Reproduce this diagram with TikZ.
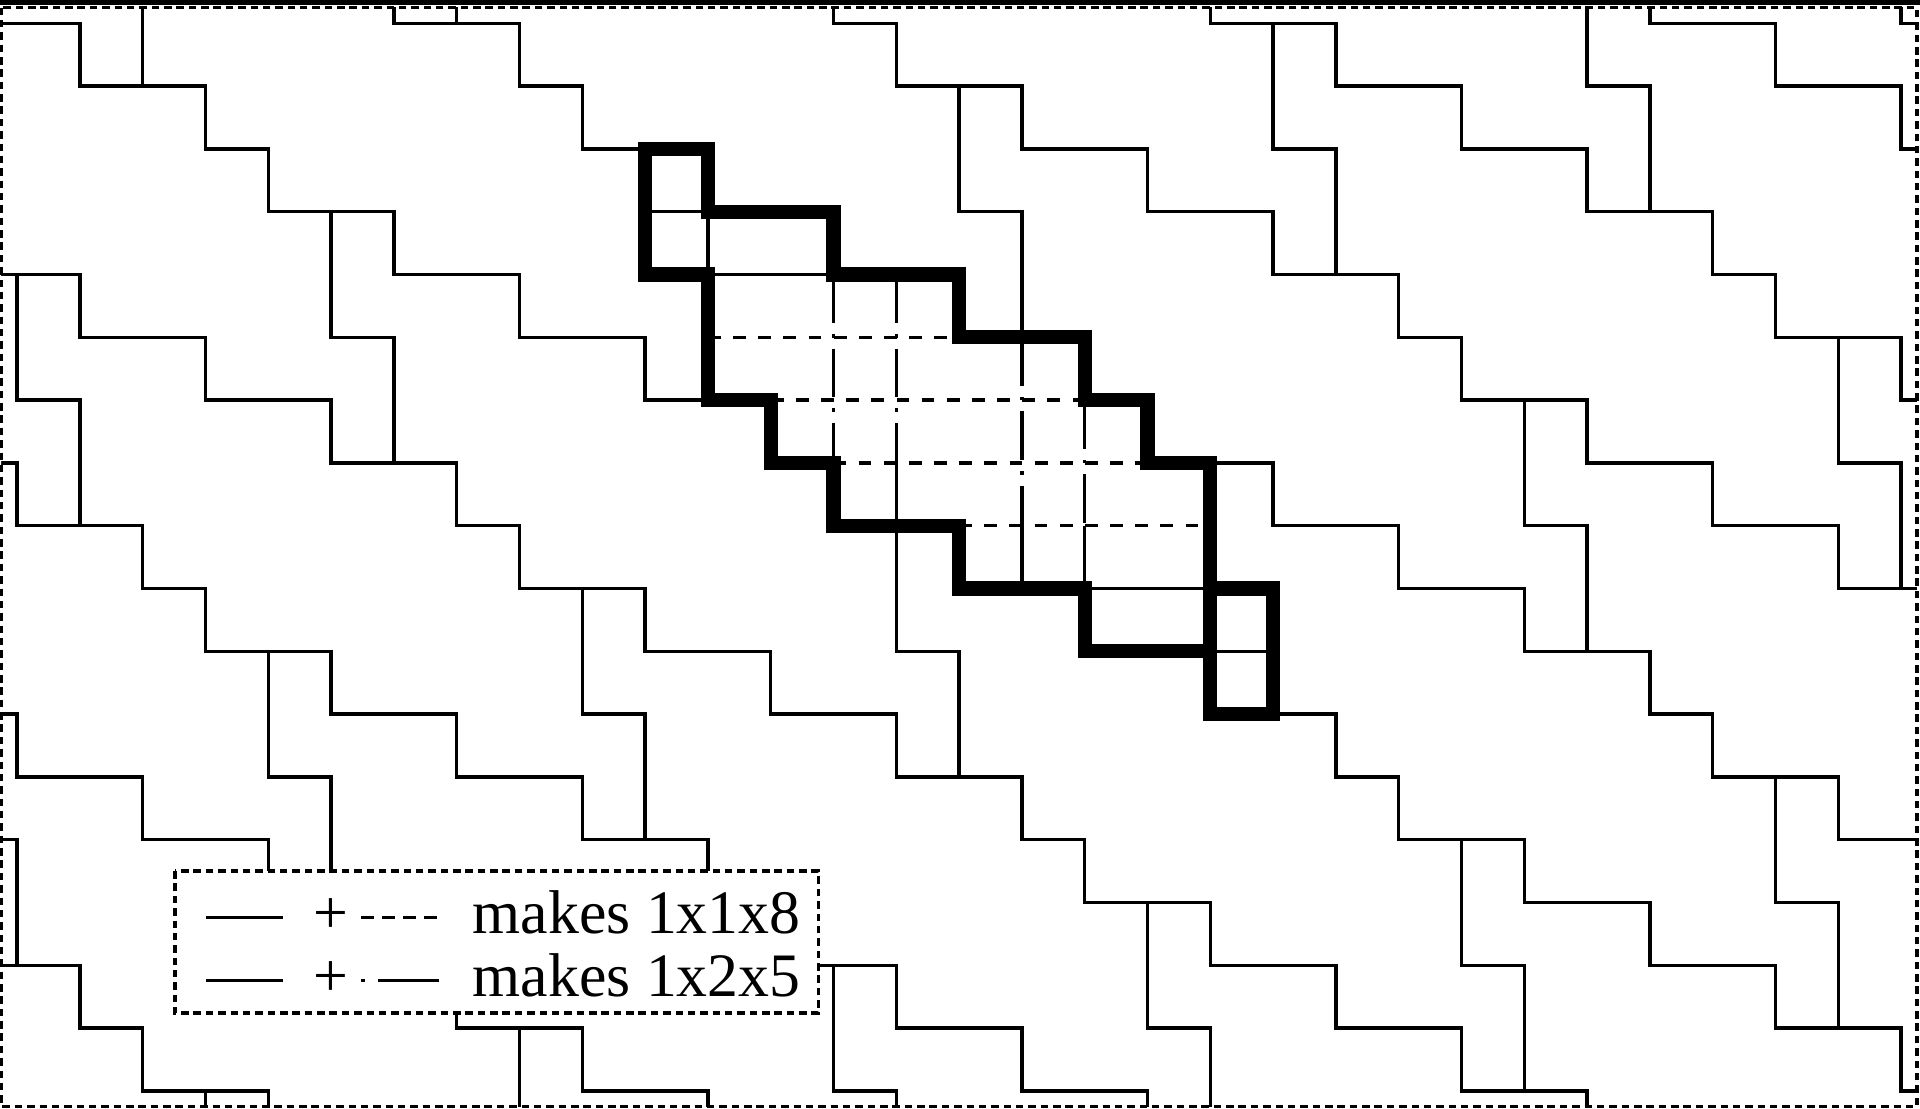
\documentclass[tikz,border=0pt]{standalone}
\usepackage{fontspec}
\setmainfont{Liberation Serif}
\usepackage{tikz}

% outline of one staircase tile, top cell at (0,0), rows run downwards
\newcommand{\tileoutline}{(0,0) -- (1,0) -- (1,1) -- (3,1) -- (3,2) -- (5,2) -- (5,3) -- (7,3) -- (7,4) -- (8,4) -- (8,5) -- (9,5) -- (9,7) -- (10,7) -- (10,9) -- (9,9) -- (9,8) -- (7,8) -- (7,7) -- (5,7) -- (5,6) -- (3,6) -- (3,5) -- (2,5) -- (2,4) -- (1,4) -- (1,2) -- (0,2) -- cycle}

\begin{document}
\begin{tikzpicture}[x=0.5cm, y=-0.5cm,
    tileline/.style={line width=0.75pt},
    hiline/.style={line width=3.2pt, line join=miter},
    dashline/.style={line width=0.75pt, dash pattern=on 2.9pt off 2.8pt},
    dotline/.style={line width=0.75pt, dash pattern=on 11pt off 2.5pt on 0.8pt off 2.5pt},
    legdash/.style={line width=0.75pt, dash pattern=on 2.85pt off 1.9pt},
    legdot/.style={line width=0.75pt, dash pattern=on 0.8pt off 3pt on 14pt off 3pt},
    framebox/.style={line width=0.85pt, dash pattern=on 1.7pt off 1.1pt},
    legtext/.style={font=\fontsize{14}{16}\selectfont, inner sep=0pt, anchor=base west},
    legsym/.style={font=\fontsize{14}{16}\selectfont, inner sep=0pt, anchor=base}]

    \useasboundingbox (-0.2723,-0.371) rectangle (30.301,17.288);
    \fill (-0.2723,-0.371) rectangle (30.301,-0.29);

    % the tiling, clipped to the frame
    \begin{scope}
        \clip (-0.25,-0.25) rectangle (30.25,17.25);
        \foreach \m in {-3,...,7} {
            \foreach \n in {-2,...,2} {
                \pgfmathsetmacro\ox{5*\m+4*\n}
                \pgfmathsetmacro\oy{4-\m+6*\n}
                \draw[tileline, shift={(\ox,\oy)}] \tileoutline;
            }
        }
    \end{scope}

    % inside of the marked tile
    \draw[tileline] (10,3) -- (11,3) -- (11,4) -- (13,4);
    \draw[tileline] (14,7) -- (14,8);
    \draw[tileline] (16,8) -- (16,9);
    \draw[tileline] (17,8) -- (17,9);
    \draw[tileline] (17,9) -- (19,9);
    \draw[tileline] (19,10) -- (20,10);

    \draw[dashline] (11,5) -- (15,5);
    \draw[dashline] (12,6) -- (17,6);
    \draw[dashline] (13,7) -- (18,7);
    \draw[dashline] (15,8) -- (19,8);

    \draw[dotline] (13,4) -- (13,7);
    \draw[dotline] (14,4) -- (14,7);
    \draw[dotline] (16,5) -- (16,8);
    \draw[dotline] (17,6) -- (17,8);

    \draw[hiline, shift={(10,2)}] \tileoutline;
    \draw[hiline] (19,9) -- (19,10);

    % frame
    \draw[framebox] (-0.25,-0.25) rectangle (30.25,17.25);

    % legend
    \draw[framebox, fill=white] (2.51,13.5) rectangle (12.76,15.76);
    \draw[tileline] (3.0,14.24) -- (4.24,14.24);
    \node[legsym] (plusA) at (5.0,14.5) {+};
    \draw[legdash] (5.48,14.24) -- (6.79,14.24);
    \node[legtext] (keyA) at (7.24,14.5) {makes 1x1x8};

    \draw[tileline] (3.0,15.24) -- (4.24,15.24);
    \node[legsym] (plusB) at (5.0,15.5) {+};
    \draw[legdot] (5.48,15.24) -- (6.72,15.24);
    \node[legtext] (keyB) at (7.24,15.5) {makes 1x2x5};
\end{tikzpicture}
\end{document}
